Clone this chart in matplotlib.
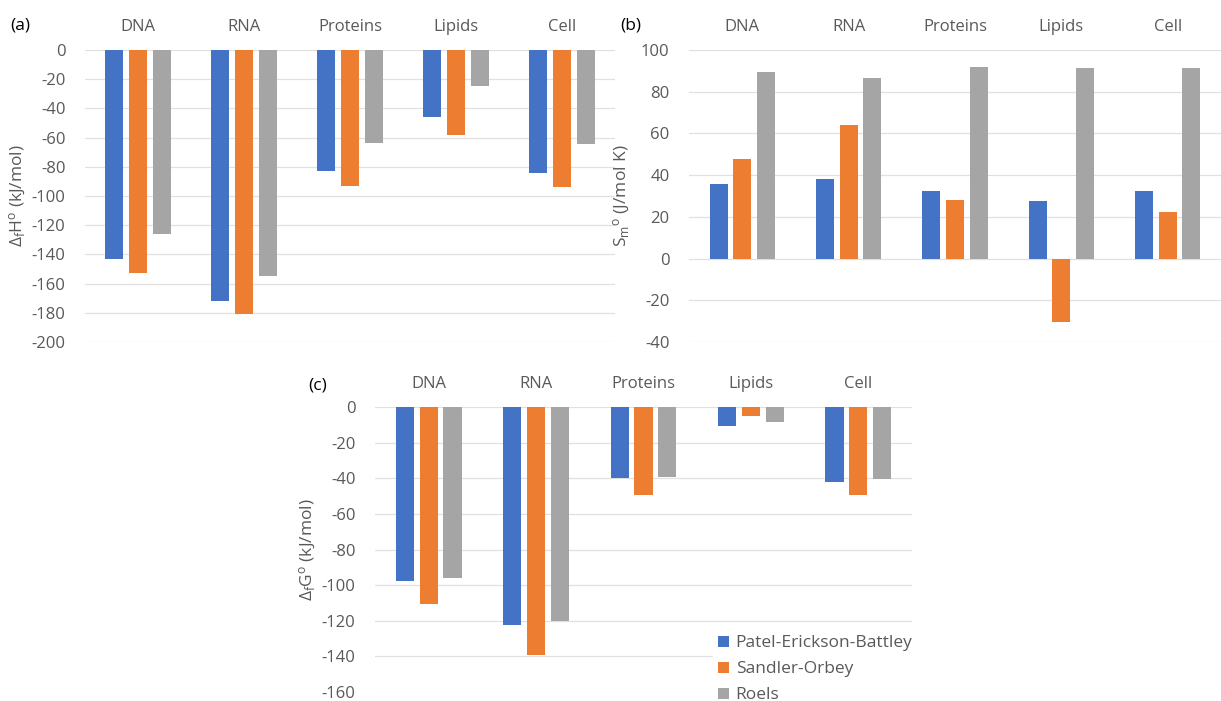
import numpy as np
import matplotlib.pyplot as plt

plt.rcParams['font.family'] = ['Open Sans', 'DejaVu Sans']
plt.rcParams['mathtext.fontset'] = 'custom'
plt.rcParams['mathtext.rm'] = 'Open Sans'
plt.rcParams['mathtext.it'] = 'Open Sans:italic'
plt.rcParams['axes.unicode_minus'] = False

categories = ['DNA', 'RNA', 'Proteins', 'Lipids', 'Cell']
methods = ['Patel-Erickson-Battley', 'Sandler-Orbey', 'Roels']
colors = ['#4472C4', '#ED7D31', '#A5A5A5']

# (a) enthalpy of formation, kJ/mol
dH_peb = [-143, -172, -83, -46, -84]
dH_so = [-153, -181, -93, -58, -94]
dH_roels = [-126, -155, -64, -24.5, -64.5]

# (b) molar entropy, J/(mol K)
S_peb = [35.7, 38.1, 32.5, 27.4, 32.2]
S_so = [47.8, 64.2, 28.0, -30.4, 22.1]
S_roels = [89.3, 86.6, 92.0, 91.6, 91.6]

# (c) Gibbs energy of formation, kJ/mol
dG_peb = [-97.5, -122.2, -40.0, -10.7, -41.9]
dG_so = [-110.6, -139.0, -49.2, -5.2, -49.2]
dG_roels = [-96.0, -120.0, -39.1, -8.2, -40.6]

W, H = 1221, 701
fig = plt.figure(figsize=(W / 100, H / 100), dpi=100)
txt = '#595959'


def panel(rect, series, ylim, step, ylabel):
    ax = fig.add_axes(rect)
    x = np.arange(len(categories))
    off = 0.222
    for i, vals in enumerate(series):
        ax.bar(x + (i - 1) * off, vals, width=0.17, color=colors[i],
               label=methods[i], zorder=3)
    ax.set_xlim(-0.5, len(categories) - 0.5)
    ax.set_ylim(*ylim)
    ax.set_yticks(np.arange(ylim[0], ylim[1] + 1, step))
    ax.grid(axis='y', color='#e0e0e0', linewidth=0.9, zorder=0)
    for s in ax.spines.values():
        s.set_visible(False)
    ax.xaxis.tick_top()
    ax.set_xticks(x, categories)
    ax.tick_params(axis='x', length=0, pad=11, labelsize=12, labelcolor=txt)
    ax.tick_params(axis='y', length=0, pad=14, labelsize=12, labelcolor=txt)
    ax.set_ylabel(ylabel, fontsize=12.5, color=txt)
    ax.yaxis.set_label_coords(-0.107, 0.5)
    return ax


def rect(l, r, t, b):
    return [l / W, 1 - b / H, (r - l) / W, (b - t) / H]


axa = panel(rect(85, 615, 50, 342), [dH_peb, dH_so, dH_roels], (-200, 0), 20,
            r'$\Delta_{\rm f}$H$^{\rm o}$ (kJ/mol)')
axb = panel(rect(689, 1221, 50, 342), [S_peb, S_so, S_roels], (-40, 100), 20,
            r'S$_{\rm m}$$^{\rm o}$ (J/mol K)')
axc = panel(rect(375, 912, 407, 692), [dG_peb, dG_so, dG_roels], (-160, 0), 20,
            r'$\Delta_{\rm f}$G$^{\rm o}$ (kJ/mol)')

fig.text(10 / W, 1 - 25 / H, '(a)', fontsize=12.5, va='center')
fig.text(620 / W, 1 - 25 / H, '(b)', fontsize=12.5, va='center')
fig.text(308 / W, 1 - 385 / H, '(c)', fontsize=12.5, va='center')

leg = axc.legend(loc='upper left', bbox_to_anchor=(713 / W, 1 - 630 / H),
                 bbox_transform=fig.transFigure, frameon=True, fancybox=False,
                 edgecolor='white', framealpha=1, fontsize=12.5,
                 handlelength=0.6, handleheight=0.6, handletextpad=0.4,
                 labelspacing=0.58, borderpad=0.3, borderaxespad=0)
for t in leg.get_texts():
    t.set_color(txt)

fig.savefig('out.png', dpi=100)
